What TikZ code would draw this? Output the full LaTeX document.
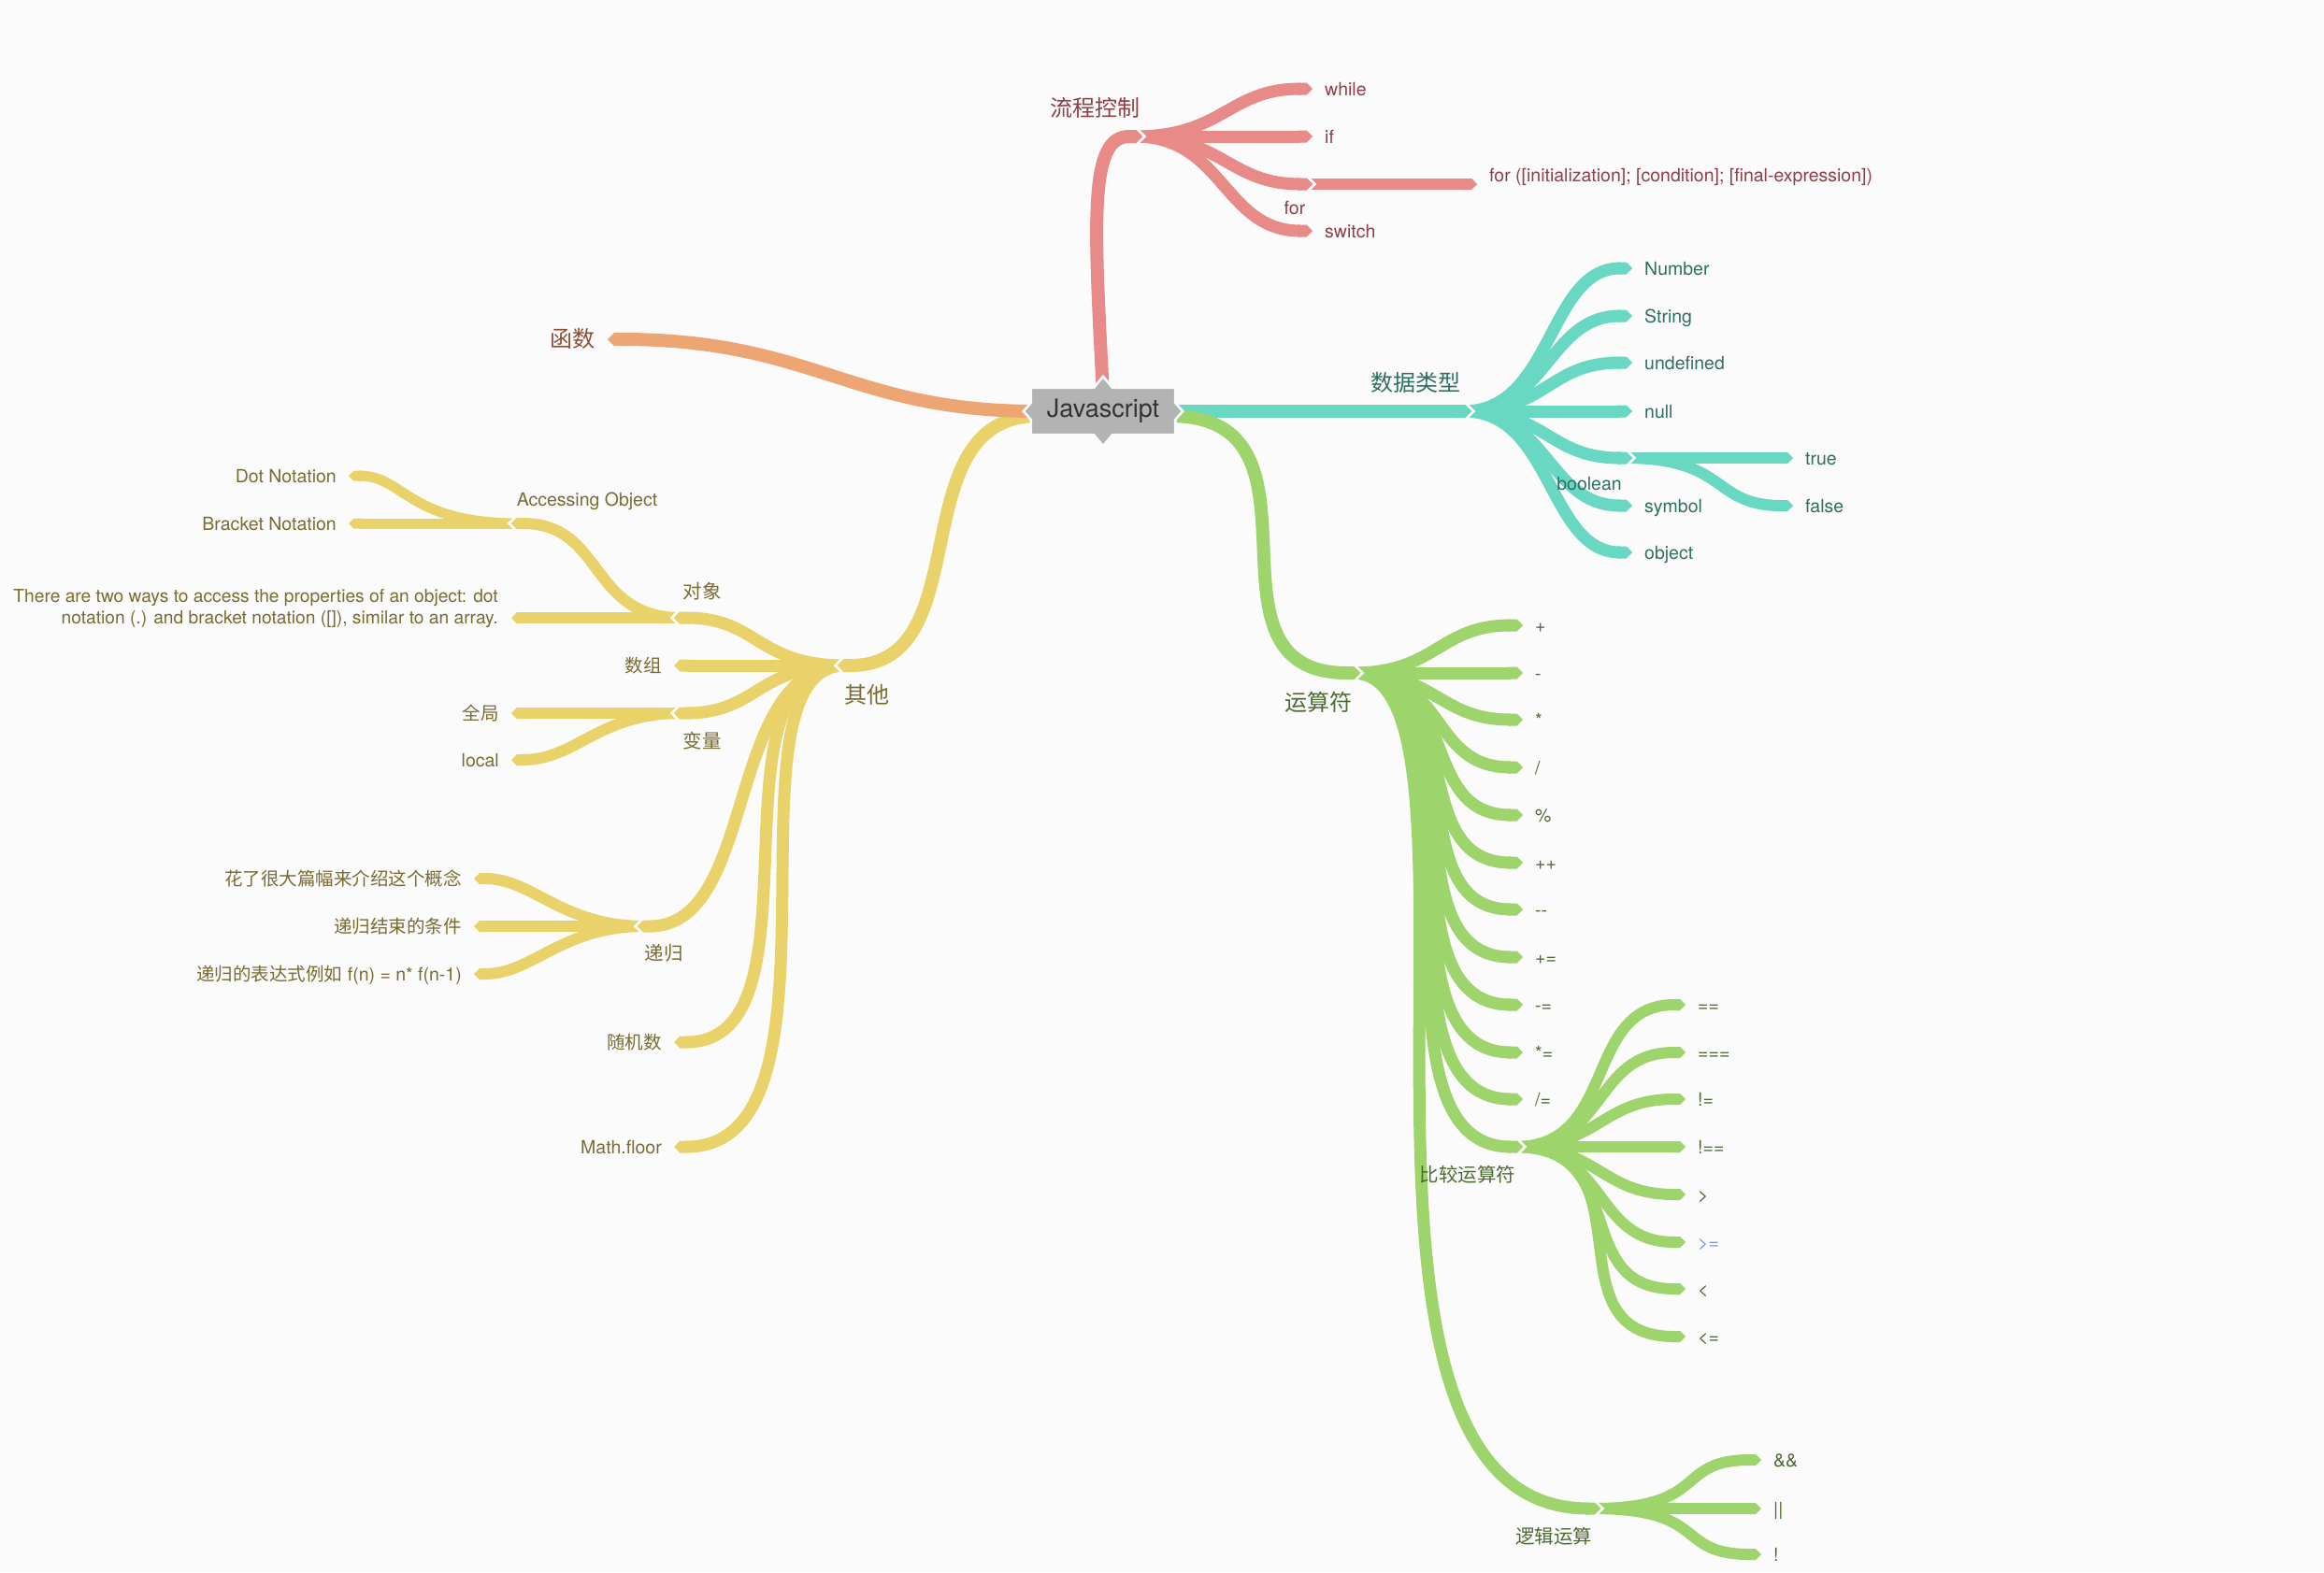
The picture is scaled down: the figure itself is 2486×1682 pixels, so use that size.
\documentclass[tikz,border=0pt]{standalone}
\usepackage{fontspec}
\setmainfont{TeX Gyre Heros}
\newfontfamily\cjk{Noto Sans CJK SC}
\usetikzlibrary{arrows.meta}
\pgfdeclarelayer{back}
\pgfdeclarelayer{mid}
\pgfsetlayers{back,mid,main}
\definecolor{bgc}{HTML}{FBFBFB}
\definecolor{cred}{HTML}{E78A88}
\definecolor{tred}{HTML}{8E3E45}
\definecolor{cora}{HTML}{EEA574}
\definecolor{tora}{HTML}{8C4F37}
\definecolor{cteal}{HTML}{68D8C2}
\definecolor{tteal}{HTML}{2F6E62}
\definecolor{cgrn}{HTML}{9DD46B}
\definecolor{tgrn}{HTML}{4E6A33}
\definecolor{cyel}{HTML}{EAD26B}
\definecolor{tyel}{HTML}{7A6B32}
\definecolor{tblue}{HTML}{7B9BE0}
\definecolor{jsfill}{HTML}{B3B3B3}
\definecolor{jstext}{HTML}{333333}
\newcommand\notchR[1]{\draw[notchline] ([xshift=2.5pt]#1) ++(-14,-14) -- ++(14,14) -- ++(-14,14);}
\newcommand\notchL[1]{\draw[notchline] ([xshift=-2.5pt]#1) ++(14,-14) -- ++(-14,14) -- ++(14,14);}
\begin{document}
\begin{tikzpicture}[x=1pt,y=-1pt,
  br/.style={line cap=butt, -{Triangle Cap}},
  w1/.style={line width=14pt}, w2/.style={line width=13pt},
  w3/.style={line width=12pt}, w4/.style={line width=11pt},
  notchline/.style={draw=bgc, line width=2.6pt, line join=miter},
  f19/.style={font=\fontsize{19.5}{23}\selectfont},
  c19/.style={font=\cjk\fontsize{19.5}{23}\selectfont},
  c20/.style={font=\cjk\fontsize{20.5}{24}\selectfont, text height=14.8pt},
  c24/.style={font=\cjk\fontsize{24}{28}\selectfont, text height=17.3pt},
  leafR/.style={anchor=west, inner xsep=13pt, inner ysep=0pt, text height=14pt, text depth=0pt, f19},
  leafL/.style={leafR, anchor=east},
  lab/.style={anchor=center, inner sep=0pt, text height=14pt, text depth=0pt, f19},
  jsbox/.style={minimum width=154pt, minimum height=50pt, inner sep=0pt, font=\fontsize{27}{32}\selectfont, text=jstext}
]
\useasboundingbox (0,0) rectangle (2486,1682);

% ---------- central ----------
\node[jsbox] (js) at (1180,440) {Javascript};

% ---------- red: flow control ----------
\coordinate (flow) at (1222,146);
\coordinate (forn) at (1404,197);
\node[lab, c24, tred] (l-flow) at (1171,116) {流程控制};
\node[lab, tred] (l-for) at (1385,222) {for};
\node[leafR, tred] (n-while) at (1404,95) {while};
\node[leafR, tred] (n-if) at (1404,146) {if};
\node[leafR, tred] (n-switch) at (1404,247) {switch};
\node[leafR, tred, text depth=20pt] (n-forlong) at (1580,197) {for ([initialization]; [condition]; [final-expression])};

% ---------- orange ----------
\node[leafL, c24, tora] (n-fun) at (650,363) {函数};

% ---------- teal ----------
\coordinate (dtype) at (1574,440);
\coordinate (bool) at (1746,490);
\node[lab, c24, tteal] (l-dtype) at (1514,410) {数据类型};
\node[lab, tteal] (l-bool) at (1700,517) {boolean};
\node[leafR, tteal] (n-number) at (1746,287) {Number};
\node[leafR, tteal] (n-string) at (1746,338) {String};
\node[leafR, tteal] (n-undef) at (1746,388) {undefined};
\node[leafR, tteal] (n-null) at (1746,440) {null};
\node[leafR, tteal] (n-symbol) at (1746,541) {symbol};
\node[leafR, tteal] (n-object) at (1746,591) {object};
\node[leafR, tteal] (n-true) at (1918,490) {true};
\node[leafR, tteal] (n-false) at (1918,541) {false};

% ---------- green ----------
\coordinate (ops) at (1455,720);
\coordinate (cmp) at (1629,1227);
\coordinate (logic) at (1712,1614);
\node[lab, c24, tgrn] (l-ops) at (1410,752) {运算符};
\node[lab, c20, tgrn] (l-cmp) at (1570,1257) {比较运算符};
\node[lab, c20, tgrn] (l-logic) at (1662,1644) {逻辑运算};
\node[leafR, tgrn] (n-plus) at (1629,669) {+};
\node[leafR, tgrn] (n-minus) at (1629,720) {-};
\node[leafR, tgrn] (n-times) at (1629,770) {*};
\node[leafR, tgrn] (n-div) at (1629,821) {/};
\node[leafR, tgrn] (n-mod) at (1629,872) {\%};
\node[leafR, tgrn] (n-inc) at (1629,923) {++};
\node[leafR, tgrn] (n-dec) at (1629,973) {{-}{-}};
\node[leafR, tgrn] (n-pluseq) at (1629,1024) {+=};
\node[leafR, tgrn] (n-minuseq) at (1629,1075) {{-}=};
\node[leafR, tgrn] (n-timeseq) at (1629,1126) {*=};
\node[leafR, tgrn] (n-diveq) at (1629,1176) {/=};
\node[leafR, tgrn] (n-eq) at (1803,1075) {==};
\node[leafR, tgrn] (n-eqq) at (1803,1126) {===};
\node[leafR, tgrn] (n-ne) at (1803,1176) {!=};
\node[leafR, tgrn] (n-nee) at (1803,1227) {!==};
\node[leafR, tgrn] (n-gt) at (1803,1278) {>};
\node[leafR, tblue] (n-ge) at (1803,1329) {>=};
\node[leafR, tgrn] (n-lt) at (1803,1379) {<};
\node[leafR, tgrn] (n-le) at (1803,1430) {<=};
\node[leafR, tgrn] (n-and) at (1884,1562) {\&\&};
\node[leafR, tgrn] (n-or) at (1884,1614) {||};
\node[leafR, tgrn] (n-not) at (1884,1663) {!};

% ---------- yellow ----------
\coordinate (other) at (896,712);
\coordinate (obj) at (721,661);
\coordinate (var) at (721,763);
\coordinate (rec) at (682,991);
\coordinate (acc) at (547,560);
\coordinate (twotip) at (547,661);
\node[lab, c24, tyel] (l-other) at (927,744) {其他};
\node[lab, c20, tyel] (l-obj) at (751,633) {对象};
\node[lab, c20, tyel] (l-var) at (751,793) {变量};
\node[lab, c20, tyel] (l-rec) at (710,1020) {递归};
\node[lab, tyel] (l-acc) at (628,534) {Accessing Object};
\node[leafL, c19, tyel] (n-arr) at (721,712) {数组};
\node[leafL, c19, tyel] (n-rnd) at (721,1115) {随机数};
\node[leafL, tyel] (n-floor) at (721,1227) {Math.floor};
\node[leafL, tyel] (n-dot) at (373,509) {Dot Notation};
\node[leafL, tyel] (n-bracket) at (373,560) {Bracket Notation};
\node[leafL, c19, tyel] (n-global) at (547,763) {全局};
\node[leafL, tyel] (n-local) at (547,813) {local};
\node[leafL, c19, tyel] (n-r1) at (507,940) {花了很大篇幅来介绍这个概念};
\node[leafL, c19, tyel] (n-r2) at (507,991) {递归结束的条件};
\node[leafL, tyel] (n-r3) at (507,1042) {{\cjk 递归的表达式例如} f(n) = n* f(n-1)};
\node[anchor=east, inner xsep=14pt, inner ysep=0pt, align=right, font=\fontsize{19.2}{22.5}\selectfont, tyel] (n-two) at (547,651)
  {There are two ways to access the properties of an object: dot\\ notation (.) and bracket notation ([]), similar to an array.};

\begin{pgfonlayer}{back}
\fill[bgc] (0,0) rectangle (2486,1682);
% level 4
\draw[br, w4, cyel] ([xshift=8pt]acc) .. controls +(-120,0) and +(60,0) .. (n-dot.east);
\draw[br, w4, cyel] ([xshift=8pt]acc) -- (n-bracket.east);
% level 3
\draw[br, w3, cred] ([xshift=-8pt]forn) -- (n-forlong.west);
\draw[br, w3, cteal] ([xshift=-8pt]bool) -- (n-true.west);
\draw[br, w3, cteal] ([xshift=-8pt]bool) .. controls +(112,0) and +(-88,0) .. (n-false.west);
\draw[br, w3, cgrn] ([xshift=-8pt]cmp) .. controls +(110,0) and +(-110,0) .. (n-eq.west);
\draw[br, w3, cgrn] ([xshift=-8pt]cmp) .. controls +(100,0) and +(-100,0) .. (n-eqq.west);
\draw[br, w3, cgrn] ([xshift=-8pt]cmp) .. controls +(91,0) and +(-91,0) .. (n-ne.west);
\draw[br, w3, cgrn] ([xshift=-8pt]cmp) -- (n-nee.west);
\draw[br, w3, cgrn] ([xshift=-8pt]cmp) .. controls +(91,0) and +(-91,0) .. (n-gt.west);
\draw[br, w3, cgrn] ([xshift=-8pt]cmp) .. controls +(100,0) and +(-100,0) .. (n-ge.west);
\draw[br, w3, cgrn] ([xshift=-8pt]cmp) .. controls +(125,0) and +(-125,0) .. (n-lt.west);
\draw[br, w3, cgrn] ([xshift=-8pt]cmp) .. controls +(150,0) and +(-150,0) .. (n-le.west);
\draw[br, w3, cgrn] ([xshift=-8pt]logic) .. controls +(126,0) and +(-94,0) .. (n-and.west);
\draw[br, w3, cgrn] ([xshift=-8pt]logic) -- (n-or.west);
\draw[br, w3, cgrn] ([xshift=-8pt]logic) .. controls +(126,0) and +(-94,0) .. (n-not.west);
\draw[br, w3, cyel] ([xshift=8pt]obj) .. controls +(-100,0) and +(100,0) .. (acc);
\draw[br, w3, cyel] ([xshift=8pt]obj) -- (twotip);
\draw[br, w3, cyel] ([xshift=8pt]var) -- (n-global.east);
\draw[br, w3, cyel] ([xshift=8pt]var) .. controls +(-90,0) and +(70,0) .. (n-local.east);
\draw[br, w3, cyel] ([xshift=8pt]rec) .. controls +(-90,0) and +(63,0) .. (n-r1.east);
\draw[br, w3, cyel] ([xshift=8pt]rec) -- (n-r2.east);
\draw[br, w3, cyel] ([xshift=8pt]rec) .. controls +(-90,0) and +(63,0) .. (n-r3.east);
% level 2
\draw[br, w2, cred] ([xshift=-8pt]flow) .. controls +(95,0) and +(-90,0) .. (n-while.west);
\draw[br, w2, cred] ([xshift=-8pt]flow) -- (n-if.west);
\draw[br, w2, cred] ([xshift=-8pt]flow) .. controls +(95,0) and +(-90,0) .. (forn);
\draw[br, w2, cred] ([xshift=-8pt]flow) .. controls +(95,0) and +(-95,0) .. (n-switch.west);
\draw[br, w2, cteal] ([xshift=-8pt]dtype) .. controls +(95,0) and +(-90,0) .. (n-number.west);
\draw[br, w2, cteal] ([xshift=-8pt]dtype) .. controls +(90,0) and +(-90,0) .. (n-string.west);
\draw[br, w2, cteal] ([xshift=-8pt]dtype) .. controls +(90,0) and +(-90,0) .. (n-undef.west);
\draw[br, w2, cteal] ([xshift=-8pt]dtype) -- (n-null.west);
\draw[br, w2, cteal] ([xshift=-8pt]dtype) .. controls +(90,0) and +(-90,0) .. (n-symbol.west);
\draw[br, w2, cteal] ([xshift=-8pt]dtype) .. controls +(95,0) and +(-90,0) .. (n-object.west);
\draw[br, w2, cteal] ([xshift=-8pt]dtype) .. controls +(90,0) and +(-90,0) .. (bool);
\draw[br, w2, cgrn] ([xshift=-8pt]ops) .. controls +(173,0) and +(-332,0) .. (logic);
\draw[br, w2, cgrn] ([xshift=-8pt]ops) .. controls +(163,0) and +(-187,0) .. (cmp);
\draw[br, w2, cgrn] ([xshift=-8pt]ops) .. controls +(158,0) and +(-177,0) .. (n-diveq.west);
\draw[br, w2, cgrn] ([xshift=-8pt]ops) .. controls +(153,0) and +(-169,0) .. (n-timeseq.west);
\draw[br, w2, cgrn] ([xshift=-8pt]ops) .. controls +(148,0) and +(-161,0) .. (n-minuseq.west);
\draw[br, w2, cgrn] ([xshift=-8pt]ops) .. controls +(143,0) and +(-151,0) .. (n-pluseq.west);
\draw[br, w2, cgrn] ([xshift=-8pt]ops) .. controls +(138,0) and +(-139,0) .. (n-dec.west);
\draw[br, w2, cgrn] ([xshift=-8pt]ops) .. controls +(128,0) and +(-129,0) .. (n-inc.west);
\draw[br, w2, cgrn] ([xshift=-8pt]ops) .. controls +(118,0) and +(-114,0) .. (n-mod.west);
\draw[br, w2, cgrn] ([xshift=-8pt]ops) .. controls +(103,0) and +(-101,0) .. (n-div.west);
\draw[br, w2, cgrn] ([xshift=-8pt]ops) .. controls +(90,0) and +(-90,0) .. (n-times.west);
\draw[br, w2, cgrn] ([xshift=-8pt]ops) -- (n-minus.west);
\draw[br, w2, cgrn] ([xshift=-8pt]ops) .. controls +(90,0) and +(-90,0) .. (n-plus.west);
\draw[br, w2, cyel] ([xshift=8pt]other) .. controls +(-140,0) and +(200,0) .. (n-floor.east);
\draw[br, w2, cyel] ([xshift=8pt]other) .. controls +(-155,0) and +(167,0) .. (n-rnd.east);
\draw[br, w2, cyel] ([xshift=8pt]other) .. controls +(-130,0) and +(130,0) .. (rec);
\draw[br, w2, cyel] ([xshift=8pt]other) .. controls +(-95,0) and +(90,0) .. (var);
\draw[br, w2, cyel] ([xshift=8pt]other) -- (n-arr.east);
\draw[br, w2, cyel] ([xshift=8pt]other) .. controls +(-95,0) and +(90,0) .. (obj);
% level 1
\draw[br, w1, cyel] ([xshift=8pt,yshift=-5pt]js.west) .. controls +(-150,0) and +(154,0) .. (other);
\draw[br, w1, cora] ([xshift=6pt]js.west) .. controls +(-200,0) and +(220,0) .. (n-fun.east);
\draw[br, w1, cred] ([yshift=-8pt]js.north) .. controls +(-10,-190) and +(-57,0) .. (flow);
\draw[br, w1, cteal] ([xshift=-6pt]js.east) -- (dtype);
\draw[br, w1, cgrn] ([xshift=-6pt,yshift=-5pt]js.east) .. controls +(185,0) and +(-185,0) .. (ops);
\end{pgfonlayer}

\begin{pgfonlayer}{mid}
\notchR{flow} \notchR{forn} \notchR{dtype} \notchR{bool}
\notchR{ops} \notchR{cmp} \notchR{logic}
\notchL{other} \notchL{obj} \notchL{var} \notchL{rec} \notchL{acc}
\filldraw[fill=jsfill, draw=bgc, line width=2.6pt, line join=miter]
 (js.north west) -- ([xshift=-10pt]js.north) -- ([yshift=12pt]js.north) -- ([xshift=10pt]js.north) -- (js.north east)
 -- ([yshift=9pt]js.east) -- ([xshift=8pt]js.east) -- ([yshift=-9pt]js.east) -- (js.south east)
 -- ([xshift=10pt]js.south) -- ([yshift=-12pt]js.south) -- ([xshift=-10pt]js.south) -- (js.south west)
 -- ([yshift=-9pt]js.west) -- ([xshift=-8pt]js.west) -- ([yshift=9pt]js.west) -- cycle;
\end{pgfonlayer}
\end{tikzpicture}
\end{document}
